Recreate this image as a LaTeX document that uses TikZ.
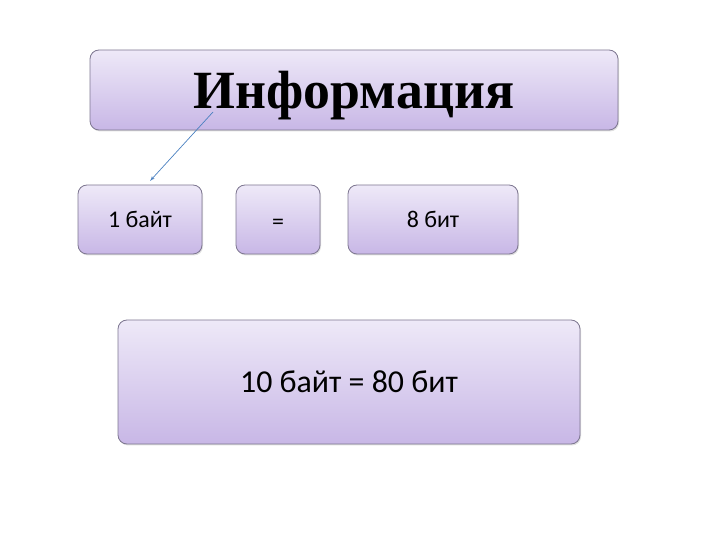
\documentclass[tikz,border=0pt]{standalone}
\usepackage{fontspec}
\setmainfont{Liberation Serif}
\newfontfamily\boxfont{Carlito}
\usepackage{tikz}
\usetikzlibrary{arrows,shapes,shadows}
\definecolor{boxtop}{HTML}{EEE9F8}
\definecolor{boxbot}{HTML}{C8B7E6}
\definecolor{boxline}{HTML}{7D7690}
\definecolor{arrowblue}{HTML}{4A80C0}
\tikzset{pbox/.style={draw=boxline,rounded corners=9bp,top color=boxtop,bottom color=boxbot,
  drop shadow={opacity=0.25,shadow xshift=1bp,shadow yshift=-1.5bp},inner sep=0pt}}

\begin{document}
\begin{tikzpicture}[>=latex',line join=bevel,]
\pgfsetlinewidth{0.8bp}
\useasboundingbox (0bp,0bp) rectangle (720bp,540bp);
%%
\node (info) at (354.0bp,450.0bp) [pbox, minimum width=528bp, minimum height=80bp] {\fontsize{54}{56}\selectfont\bfseries\raisebox{-6bp}[\height][\depth]{Информация}};
  \node (one) at (140.0bp,320.5bp) [pbox, minimum width=124bp, minimum height=69bp] {\boxfont\fontsize{24}{26}\selectfont 1 байт};
  \node (eq) at (278.0bp,320.5bp) [pbox, minimum width=84bp, minimum height=69bp] {\boxfont\fontsize{24}{26}\selectfont\raisebox{-5bp}[\height][\depth]{=}};
  \node (eight) at (433.0bp,320.5bp) [pbox, minimum width=170bp, minimum height=69bp] {\boxfont\fontsize{24}{26}\selectfont 8 бит};
  %
  \node (ten) at (349.0bp,158.0bp) [pbox, minimum width=462bp, minimum height=124bp] {\boxfont\fontsize{32}{34}\selectfont 10 байт = 80 бит};
  \coordinate (tail) at (213.0bp,428.0bp);
  \coordinate (head) at (150.0bp,359.0bp);
  \draw [->, color=arrowblue, line width=0.7bp] (tail) -- (head);
%
\end{tikzpicture}
\end{document}
